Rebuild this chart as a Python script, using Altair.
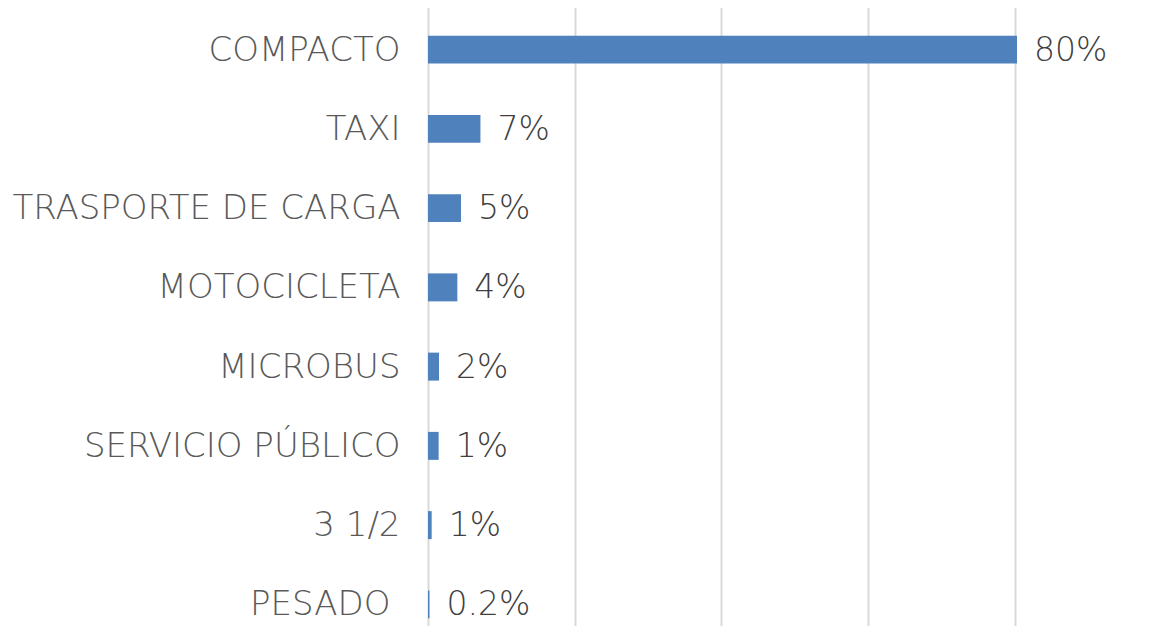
import altair as alt
import pandas as pd

categories = ["COMPACTO", "TAXI", "TRASPORTE DE CARGA", "MOTOCICLETA",
              "MICROBUS", "SERVICIO PÚBLICO", "3 1/2", "PESADO"]
values = [0.803, 0.0715, 0.045, 0.040, 0.015, 0.0145, 0.005, 0.002]
labels = ["80%", "7%", "5%", "4%", "2%", "1%", "1%", "0.2%"]

df = pd.DataFrame({"cat": categories, "val": values, "lab": labels})

FONT = "DejaVu Sans"
FS = 34

y = alt.Y("cat:N", sort=categories, title=None,
          scale=alt.Scale(range=[0, 634], paddingInner=0.647, paddingOuter=0.3235),
          axis=alt.Axis(domain=False, ticks=False,
                        labelPadding={"condition": {"test": "datum.value === 'PESADO'", "value": 38},
                                      "value": 28},
                        labelFont=FONT, labelFontSize=FS, labelFontWeight=300,
                        labelColor="#595959", labelLimit=0, labelOffset=1))
x = alt.X("val:Q", title=None,
          scale=alt.Scale(domain=[0, 0.9693], nice=False, zero=True),
          axis=alt.Axis(values=[0, 0.2, 0.4, 0.6, 0.8], labels=False, ticks=False,
                        domain=False, grid=True, gridColor="#d9d9d9", gridWidth=2))

bars = alt.Chart(df).mark_bar(color="#4f81bd").encode(y=y, x=x)
text = alt.Chart(df).mark_text(align="left", baseline="middle", dx=17, dy=1,
                               font=FONT, fontSize=33, fontWeight=300,
                               color="#404040").encode(
    y=alt.Y("cat:N", sort=categories), x=alt.X("val:Q"), text="lab:N")

chart = (bars + text).properties(
    width=711, height=616,
    autosize=alt.AutoSizeParams(type="none"),
    padding={"left": 420, "top": 2, "right": 0, "bottom": 0},
).configure_view(stroke=None)

chart.save("out.html", embed_options={"renderer": "svg", "actions": False})
